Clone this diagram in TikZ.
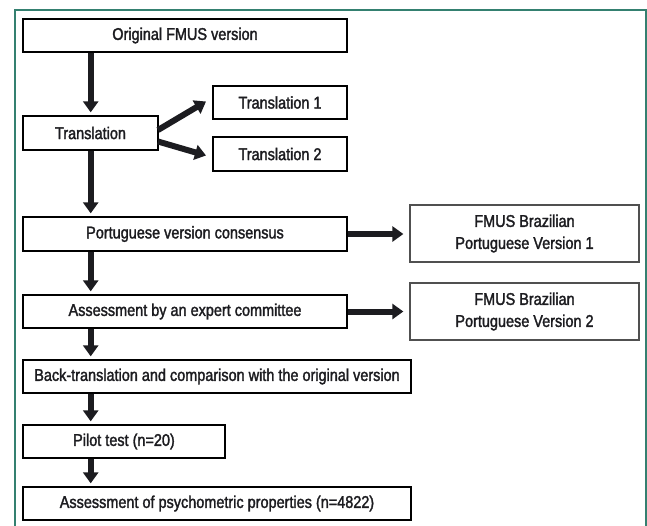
\documentclass[tikz,border=0pt]{standalone}
\usepackage{fontspec}
\setmainfont{Liberation Sans}[FakeStretch=0.85,FakeBold=1.8]
\usetikzlibrary{arrows.meta}
\definecolor{frameteal}{RGB}{52,128,112}
\definecolor{boxgrey}{RGB}{80,80,80}
\definecolor{inkblack}{RGB}{28,28,32}
\begin{document}
\begin{tikzpicture}[x=1pt,y=-1pt,
  every node/.style={font=\fontsize{17}{19}\selectfont, text=inkblack},
  lbox/.style={draw=black, line width=1.3pt, inner sep=0pt, align=center},
  rbox/.style={draw=boxgrey, line width=1.3pt, inner sep=0pt, align=center},
  flow/.style={draw=inkblack, line width=6pt, -{Triangle[width=15pt,length=11pt]}, shorten >=3pt}
]
\useasboundingbox (0,0) rectangle (647,525);
\fill[white] (0,0) rectangle (647,525);
\draw[frameteal, line width=1.6pt] (15,540) -- (15,10) -- (646,10) -- (646,540);

\node[lbox, minimum width=324pt, minimum height=33pt] (orig) at (185,35.5) {Original FMUS version};
\node[lbox, minimum width=135pt, minimum height=34pt] (trans) at (90.5,133) {Translation};
\node[lbox, minimum width=134pt, minimum height=33pt] (t1) at (280,102.5) {Translation 1};
\node[lbox, minimum width=134pt, minimum height=34pt] (t2) at (280,154) {Translation 2};
\node[lbox, minimum width=324pt, minimum height=34pt] (cons) at (185,234) {Portuguese version consensus};
\node[rbox, minimum width=229pt, minimum height=57pt] (v1) at (524.5,233.5) {FMUS Brazilian\\[3pt]Portuguese Version 1};
\node[lbox, minimum width=324pt, minimum height=33pt] (expert) at (185,311.5) {Assessment by an expert committee};
\node[rbox, minimum width=229pt, minimum height=57pt] (v2) at (524.5,311.5) {FMUS Brazilian\\[3pt]Portuguese Version 2};
\node[lbox, minimum width=388pt, minimum height=33pt] (back) at (217,376.5) {Back-translation and comparison with the original version};
\node[lbox, minimum width=202pt, minimum height=33pt] (pilot) at (124,441.5) {Pilot test (n=20)};
\node[lbox, minimum width=388pt, minimum height=33pt] (psych) at (217,503.5) {Assessment of psychometric properties (n=4822)};

\coordinate (a1) at (90.7,0);
\draw[flow] (orig.south -| a1) -- (trans.north -| a1);
\draw[flow] (trans.south -| a1) -- (cons.north -| a1);
\draw[flow] (cons.south -| a1) -- (expert.north -| a1);
\draw[flow] (expert.south -| a1) -- (back.north -| a1);
\draw[flow] (back.south -| a1) -- (pilot.north -| a1);
\draw[flow] (pilot.south -| a1) -- (psych.north -| a1);

\coordinate (d1s) at (158,130);
\coordinate (d1e) at (206,101.5);
\coordinate (d2s) at (158,141.5);
\coordinate (d2e) at (206,155.5);
\draw[flow, shorten >=0pt, shorten <=0pt] (d1s) -- (d1e);
\draw[flow, shorten >=0pt, shorten <=0pt] (d2s) -- (d2e);

\draw[flow, shorten >=6pt] (cons.east) -- (v1.west |- cons.east);
\draw[flow, shorten >=6pt] (expert.east) -- (v2.west |- expert.east);
\end{tikzpicture}
\end{document}
